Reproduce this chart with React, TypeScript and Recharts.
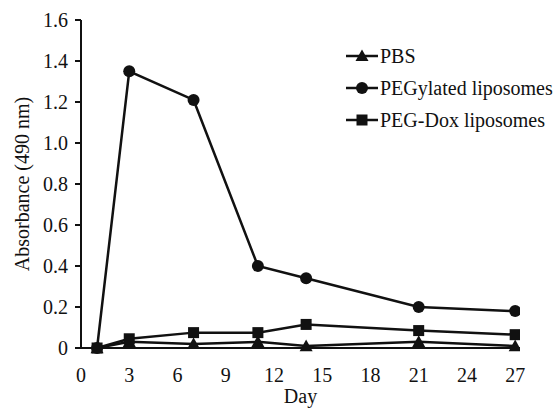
import React from 'react';
import { LineChart, Line, XAxis, YAxis, Legend, Label } from 'recharts';

const days = [1, 3, 7, 11, 14, 21, 27];
const pbs = [0, 0.03, 0.02, 0.03, 0.01, 0.03, 0.01];
const pegylated = [0, 1.35, 1.21, 0.4, 0.34, 0.2, 0.18];
const pegDox = [0, 0.045, 0.075, 0.075, 0.115, 0.085, 0.065];
const xTicks = [0, 3, 6, 9, 12, 15, 18, 21, 24, 27];
const yTicks = [0, 0.2, 0.4, 0.6, 0.8, 1.0, 1.2, 1.4, 1.6];
const seriesNames = ['PBS', 'PEGylated liposomes', 'PEG-Dox liposomes'];

const data = days.map((d, i) => ({ day: d, pbs: pbs[i], peg: pegylated[i], dox: pegDox[i] }));

const FONT = '"Liberation Serif", "Times New Roman", serif';
const INK = '#111';

const Tri = (props: any) => {
  const { cx, cy } = props;
  if (cx == null || cy == null) return null;
  const s = 6.5;
  return <polygon points={`${cx},${cy - s} ${cx - s},${cy + s * 0.8} ${cx + s},${cy + s * 0.8}`} fill={INK} />;
};
const Dot = (props: any) => {
  const { cx, cy } = props;
  if (cx == null || cy == null) return null;
  return <circle cx={cx} cy={cy} r={6} fill={INK} />;
};
const Sq = (props: any) => {
  const { cx, cy } = props;
  if (cx == null || cy == null) return null;
  return <rect x={cx - 5.5} y={cy - 5.5} width={11} height={11} fill={INK} />;
};

const LegendContent = () => {
  const items = [
    { name: seriesNames[0], shape: 'tri' },
    { name: seriesNames[1], shape: 'circle' },
    { name: seriesNames[2], shape: 'sq' },
  ];
  return (
    <div style={{ fontFamily: FONT, fontSize: 20, color: INK }}>
      {items.map((it, i) => (
        <div key={i} style={{ display: 'flex', alignItems: 'center', height: 32 }}>
          <svg width={34} height={20} style={{ marginRight: 1 }}>
            <line x1={1} y1={10} x2={33} y2={10} stroke={INK} strokeWidth={2.5} />
            {it.shape === 'tri' && <polygon points="17,3.5 10.5,15 23.5,15" fill={INK} />}
            {it.shape === 'circle' && <circle cx={17} cy={10} r={6} fill={INK} />}
            {it.shape === 'sq' && <rect x={11.5} y={4.5} width={11} height={11} fill={INK} />}
          </svg>
          <span>{it.name}</span>
        </div>
      ))}
    </div>
  );
};

export default function App() {
  return (
    <div style={{ position: 'absolute', left: 0, top: 0, background: '#fff' }}>
      <LineChart
        width={558}
        height={408}
        data={data}
        margin={{ top: 20, right: 38, bottom: 0, left: 0 }}
      >
        <XAxis
          dataKey="day"
          type="number"
          domain={[0, 27.3]}
          ticks={xTicks}
          tickLine={false}
          tickSize={6}
          tickMargin={14}
          axisLine={{ stroke: INK, strokeWidth: 2 }}
          tick={{ fill: INK, fontSize: 20, fontFamily: FONT }}
          height={60}
          allowDataOverflow
        >
          <Label value="Day" position="insideBottom" offset={5} style={{ fill: INK, fontSize: 20, fontFamily: FONT }} />
        </XAxis>
        <YAxis
          domain={[0, 1.6]}
          ticks={yTicks}
          tickFormatter={(v: number) => (v === 0 ? '0' : v.toFixed(1))}
          tickSize={6}
          tickMargin={7}
          tickLine={{ stroke: INK, strokeWidth: 2 }}
          axisLine={{ stroke: INK, strokeWidth: 2 }}
          tick={{ fill: INK, fontSize: 20, fontFamily: FONT }}
          width={81}
        >
          <Label
            value="Absorbance (490 nm)"
            angle={-90}
            position="insideLeft"
            offset={22}
            style={{ textAnchor: 'middle', fill: INK, fontSize: 20, fontFamily: FONT }}
          />
        </YAxis>
        <Legend
          layout="vertical"
          verticalAlign="middle"
          align="center"
          content={<LegendContent />}
          wrapperStyle={{ position: 'absolute', left: 345, top: 40, width: 220 }}
        />
        <Line dataKey="pbs" name={seriesNames[0]} stroke={INK} strokeWidth={2.5} dot={<Tri />} isAnimationActive={false} legendType="triangle" />
        <Line dataKey="peg" name={seriesNames[1]} stroke={INK} strokeWidth={2.5} dot={<Dot />} isAnimationActive={false} legendType="circle" />
        <Line dataKey="dox" name={seriesNames[2]} stroke={INK} strokeWidth={2.5} dot={<Sq />} isAnimationActive={false} legendType="square" />
      </LineChart>
    </div>
  );
}
